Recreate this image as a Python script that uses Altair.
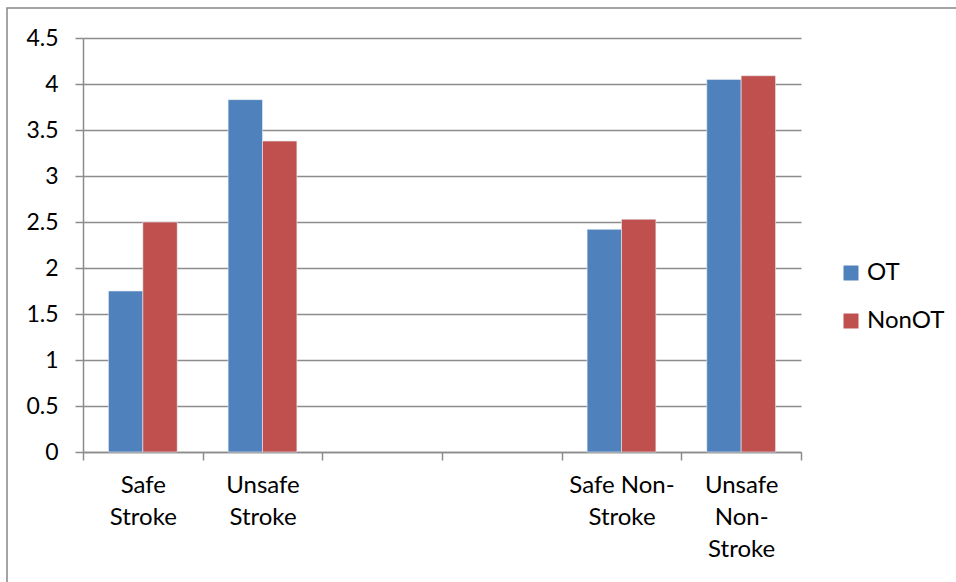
import altair as alt
import pandas as pd

categories = ["Safe Stroke", "Unsafe Stroke", "gap1", "gap2", "Safe Non-Stroke", "Unsafe Non-Stroke"]
series = ["OT", "NonOT"]
bar_categories = ["Safe Stroke", "Unsafe Stroke", "Safe Non-Stroke", "Unsafe Non-Stroke"]
ot_values = [1.75, 3.83, 2.42, 4.05]
nonot_values = [2.50, 3.38, 2.53, 4.09]
y_ticks = [0, 0.5, 1, 1.5, 2, 2.5, 3, 3.5, 4, 4.5]

rows = []
for c, a, b in zip(bar_categories, ot_values, nonot_values):
    rows.append({"category": c, "series": "OT", "value": a})
    rows.append({"category": c, "series": "NonOT", "value": b})
df = pd.DataFrame(rows)

FONT = "Lato"
GRID = "#8c8c8c"

label_expr = (
    "datum.value == 'Safe Stroke' ? ['Safe', 'Stroke'] : "
    "datum.value == 'Unsafe Stroke' ? ['Unsafe', 'Stroke'] : "
    "datum.value == 'Safe Non-Stroke' ? ['Safe Non-', 'Stroke'] : "
    "datum.value == 'Unsafe Non-Stroke' ? ['Unsafe', 'Non-', 'Stroke'] : ''"
)

W = 718
H = 414

bars = alt.Chart(df).mark_bar(stroke="#e8eef6", strokeWidth=0.6).encode(
    x=alt.X(
        "category:N",
        scale=alt.Scale(domain=categories, paddingInner=0, paddingOuter=0),
        axis=alt.Axis(
            title=None,
            labelExpr=label_expr,
            labelAngle=0,
            labelFont=FONT,
            labelFontSize=24,
            labelColor="#000000",
            labelLineHeight=32,
            labelPadding=13,
            labelBaseline="top",
            tickBand="extent",
            tickSize=8,
            tickColor=GRID,
            tickWidth=1.5,
            domainColor=GRID,
            domainWidth=1.5,
            grid=False,
        ),
    ),
    xOffset=alt.XOffset(
        "series:N",
        scale=alt.Scale(domain=series, paddingInner=0, paddingOuter=0.74),
    ),
    y=alt.Y(
        "value:Q",
        scale=alt.Scale(domain=[0, 4.5], nice=False),
        axis=alt.Axis(
            title=None,
            values=y_ticks,
            format="~g",
            labelFont=FONT,
            labelFontSize=23,
            labelColor="#000000",
            labelPadding=17,
            tickSize=8,
            tickColor=GRID,
            tickWidth=1.5,
            domainColor=GRID,
            domainWidth=1.5,
            gridColor=GRID,
            gridWidth=1.5,
        ),
    ),
    color=alt.Color(
        "series:N",
        scale=alt.Scale(domain=series, range=["#4F81BD", "#C0504D"]),
        legend=alt.Legend(
            title=None,
            orient="none",
            legendX=756,
            legendY=223,
            symbolType="square",
            symbolSize=225,
            symbolStrokeWidth=0,
            labelFont=FONT,
            labelFontSize=24,
            labelColor="#000000",
            labelOffset=4,
            rowPadding=24,
        ),
    ),
)

frame = alt.Chart(pd.DataFrame({"k": [0]})).mark_rect(
    fill=None, stroke="#868686", strokeWidth=1.5
).encode(
    x=alt.value(-76),
    x2=alt.value(W + 300),
    y=alt.value(-30),
    y2=alt.value(H + 300),
)

chart = alt.layer(frame, bars).properties(
    width=W,
    height=H,
    autosize=alt.AutoSizeParams(type="none"),
    padding={"left": 83, "top": 38, "right": 155, "bottom": 130},
    background="white",
).configure_view(stroke=None)

chart.save("out.html", embed_options={"renderer": "svg", "actions": False})
